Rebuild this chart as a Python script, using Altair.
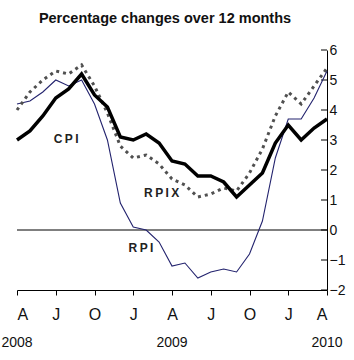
import altair as alt
import pandas as pd

# Monthly, April 2008 .. April 2010 (index 0..24)
month_idx = list(range(25))
cpi = [3.0, 3.3, 3.8, 4.4, 4.7, 5.2, 4.5, 4.1, 3.1, 3.0, 3.2, 2.9, 2.3,
       2.2, 1.8, 1.8, 1.6, 1.1, 1.5, 1.9, 2.9, 3.5, 3.0, 3.4, 3.7]
rpi = [4.2, 4.3, 4.6, 5.0, 4.8, 5.0, 4.2, 3.0, 0.9, 0.1, 0.0, -0.4, -1.2,
       -1.1, -1.6, -1.4, -1.3, -1.4, -0.8, 0.3, 2.4, 3.7, 3.7, 4.4, 5.3]
rpix = [4.0, 4.6, 5.0, 5.3, 5.2, 5.5, 4.8, 3.9, 2.8, 2.4, 2.5, 2.2, 1.7,
        1.5, 1.1, 1.2, 1.4, 1.3, 1.9, 2.7, 3.8, 4.6, 4.2, 4.8, 5.4]

tick_pos = [0, 3, 6, 9, 12, 15, 18, 21, 24]
tick_letters = ["A", "J", "O", "J", "A", "J", "O", "J", "A"]
years = ["2008", "2009", "2010"]
year_pos = [0, 12, 24]
y_ticks = [-2, -1, 0, 1, 2, 3, 4, 5, 6]

label_text = ["C\u2009P\u2009I", "R\u2009P\u2009I\u2009X", "R\u2009P\u2009I"]
label_x = [3.8, 11.2, 9.6]
label_y = [3.03, 1.23, -0.6]

W, H = 310, 240
FONT = "Liberation Sans"

df = pd.DataFrame({"m": month_idx, "CPI": cpi, "RPI": rpi, "RPIX": rpix})
x_scale = alt.Scale(domain=[0, 24], nice=False, zero=False)
y_scale = alt.Scale(domain=[-2, 6], nice=False, zero=False)

label_expr = "[" + ",".join("'%s'" % t for t in tick_letters) + "][round(datum.value/3)]"

x_axis = alt.Axis(values=tick_pos, labelExpr=label_expr, tickSize=5, tickColor="black",
                  domainColor="black", labelFontSize=16, labelPadding=11, grid=False,
                  title=None, labelFont=FONT, labelColor="#111", orient="bottom")
y_axis = alt.Axis(orient="right", values=y_ticks, tickSize=0, domainColor="black",
                  labelFontSize=14, labelPadding=2, grid=False, title=None,
                  labelFont=FONT, labelColor="#111")


def X(field):
    return alt.X(field, scale=x_scale, axis=x_axis)


def Y(field):
    return alt.Y(field, scale=y_scale, axis=y_axis)


base = alt.Chart(df)

rpi_line = base.mark_line(color="#23236e", strokeWidth=1.1).encode(x=X("m:Q"), y=Y("RPI:Q"))
rpix_line = base.mark_line(color="#505050", strokeWidth=3, strokeDash=[3, 4]).encode(
    x=X("m:Q"), y=Y("RPIX:Q"))
cpi_line = base.mark_line(color="black", strokeWidth=3.5).encode(x=X("m:Q"), y=Y("CPI:Q"))

zero = alt.Chart(pd.DataFrame({"v": [0]})).mark_rule(color="black", strokeWidth=1).encode(
    y=Y("v:Q"))

yticks = alt.Chart(pd.DataFrame({"v": y_ticks})).mark_rule(color="black", strokeWidth=1).encode(
    y=Y("v:Q"), x=alt.value(W - 6), x2=alt.value(W))

labels = alt.Chart(pd.DataFrame({"t": label_text, "x": label_x, "y": label_y})).mark_text(
    font=FONT, fontSize=12, fontWeight="bold", color="#222"
).encode(x=X("x:Q"), y=Y("y:Q"), text="t:N")

year_text = alt.Chart(pd.DataFrame({"t": years, "x": year_pos})).mark_text(
    font=FONT, fontSize=14, color="#111", baseline="middle"
).encode(x=X("x:Q"), y=alt.value(H + 53), text="t:N")

chart = alt.layer(zero, yticks, rpi_line, rpix_line, cpi_line, labels, year_text).properties(
    width=W, height=H,
    title=alt.TitleParams("Percentage changes over 12 months", font=FONT, fontSize=14.5,
                          fontWeight="bold", color="#111", anchor="middle", dx=-7, dy=9,
                          baseline="alphabetic", offset=15),
    autosize=alt.AutoSizeParams(type="none"),
    padding={"left": 17, "top": 50, "right": 27, "bottom": 70},
).configure_view(stroke=None)

chart.save("out.html", embed_options={"renderer": "svg", "actions": False})
